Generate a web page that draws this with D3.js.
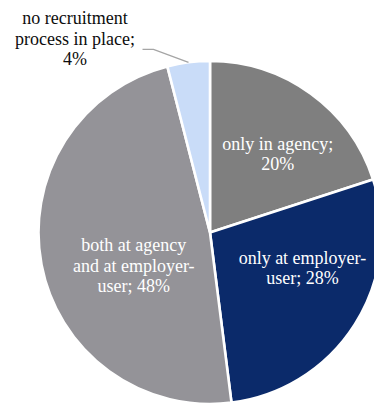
<!DOCTYPE html>
<html>
<head>
<meta charset="utf-8">
<script src="https://cdn.jsdelivr.net/npm/d3@7"></script>
<style>
  html, body { margin: 0; padding: 0; background: #fff; }
  svg { display: block; }
</style>
</head>
<body>
<svg id="chart" width="374" height="405"></svg>
<script>
// Recruitment process location shares (%), clockwise from 12 o'clock
const categories = [
  "only in agency",
  "only at employer-user",
  "both at agency and at employer-user",
  "no recruitment process in place"
];
const values = [20, 28, 48, 4];
// Label text lines for each slice
const labelLines = [
  ["only in agency;", "20%"],
  ["only at employer-", "user; 28%"],
  ["both at agency", "and at employer-", "user; 48%"],
  ["no recruitment", "process in place;", "4%"]
];
const colors = ["#7f7f7f", "#0b2a6a", "#949398", "#c9dcf8"];

const width = 374, height = 405;
const cx = 210, cy = 232.5, radius = 171.5;
const lineHeight = 20.5;
const fontFamily = '"Liberation Serif", "Times New Roman", Tinos, serif';

const svg = d3.select("#chart");
const g = svg.append("g").attr("transform", `translate(${cx},${cy})`);

const pie = d3.pie().sort(null).value(d => d.value);
const data = pie(categories.map((c, i) => ({ name: c, value: values[i], lines: labelLines[i], color: colors[i] })));

const arc = d3.arc().innerRadius(0).outerRadius(radius);

g.selectAll("path.slice")
  .data(data)
  .join("path")
  .attr("class", "slice")
  .attr("d", arc)
  .attr("fill", d => d.data.color)
  .attr("stroke", "#ffffff")
  .attr("stroke-width", 2.6)
  .attr("stroke-linejoin", "miter");

// Inside labels: centroid of a mid-radius arc, nudged for readability
const labelArc = d3.arc().innerRadius(100).outerRadius(100);
const nudges = [[9, 2.5], [8, -18], [22, 14.5]];

data.slice(0, 3).forEach((d, i) => {
  const [x, y] = labelArc.centroid(d);
  const lx = x + nudges[i][0];
  const ly = y + nudges[i][1];
  const n = d.data.lines.length;
  const t = g.append("text")
    .attr("text-anchor", "middle")
    .style("font-family", fontFamily)
    .style("font-size", "18px")
    .attr("fill", "#ffffff");
  d.data.lines.forEach((line, k) => {
    t.append("tspan")
      .attr("x", lx)
      .attr("y", ly + 6 + (k - (n - 1) / 2) * lineHeight)
      .text(line);
  });
});

// Outside label with leader line for the small slice
const small = data[3];
const edgeArc = d3.arc().innerRadius(radius).outerRadius(radius);
const [ex, ey] = edgeArc.centroid(small);
const elbow = [ex - 35, ey - 13];
const tail = [elbow[0] - 11, elbow[1]];
g.append("polyline")
  .attr("points", [[ex, ey], elbow, tail].map(p => p.join(",")).join(" "))
  .attr("fill", "none")
  .attr("stroke", "#a5a5a5")
  .attr("stroke-width", 1.4);

const ot = g.append("text")
  .attr("text-anchor", "middle")
  .style("font-family", fontFamily)
  .style("font-size", "18px")
  .attr("fill", "#0d0d0d");
small.data.lines.forEach((line, k) => {
  ot.append("tspan")
    .attr("x", 75 - cx)
    .attr("y", 24 - cy + k * lineHeight)
    .text(line);
});
</script>
</body>
</html>
